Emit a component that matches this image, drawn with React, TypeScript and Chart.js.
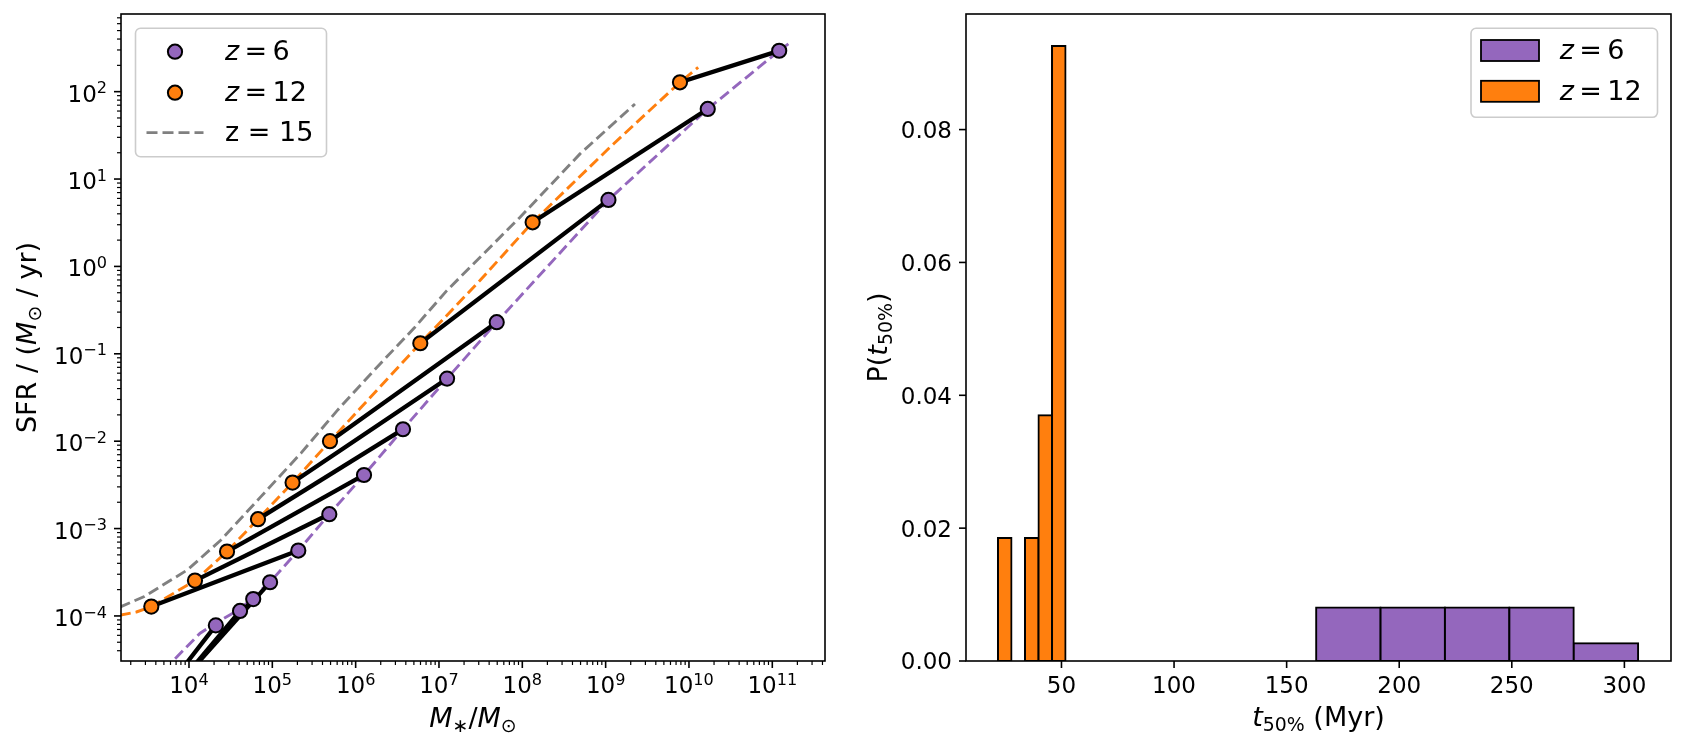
import React, { useEffect, useRef } from 'react';
import { Chart, registerables } from 'chart.js';

Chart.register(...registerables);

const FONT = '"DejaVu Sans", "Noto Sans", sans-serif';
const PURPLE = '#9467bd';
const ORANGE = '#ff7f0e';
const GRAY = '#808080';

// ---------------- Left panel: SFR vs stellar mass ----------------
// z = 6 galaxies (purple markers)
const z6Mass = [2.1e4, 4.1e4, 5.9e4, 9.4e4, 2.05e5, 4.83e5, 1.26e6, 3.7e6, 1.25e7, 4.93e7, 1.08e9, 1.68e10, 1.21e11];
const z6SFR = [7.8e-5, 1.14e-4, 1.56e-4, 2.43e-4, 5.6e-4, 1.46e-3, 4.1e-3, 1.37e-2, 5.2e-2, 0.23, 5.77, 63.4, 294];
// z = 12 progenitors (orange markers), paired index by index with z = 6
const z12Mass = [3.55e3, 5.0e3, 7.1e3, 1.0e4, 3.53e3, 1.18e4, 2.86e4, 6.73e4, 1.75e5, 4.92e5, 5.97e6, 1.33e8, 7.8e9];
const z12SFR = [8.8e-6, 1.05e-5, 1.55e-5, 2.24e-5, 1.28e-4, 2.54e-4, 5.46e-4, 1.28e-3, 3.36e-3, 1.0e-2, 0.132, 3.2, 128];
// dashed relations
const relZ6Mass = [5.0e3, 1.36e4, 2.1e4, 4.1e4, 9.4e4, 2.05e5, 4.83e5, 1.26e6, 3.7e6, 1.25e7, 4.93e7, 1.08e9, 1.68e10, 1.21e11, 1.56e11];
const relZ6SFR = [2.4e-5, 6.35e-5, 8.3e-5, 1.2e-4, 2.45e-4, 5.6e-4, 1.46e-3, 4.1e-3, 1.37e-2, 5.2e-2, 0.23, 5.77, 63.4, 294, 352];
const relZ12Mass = [1.48e3, 2.34e3, 3.53e3, 1.18e4, 2.86e4, 6.73e4, 1.75e5, 4.92e5, 5.97e6, 3.1e7, 1.33e8, 1.24e9, 7.8e9, 1.29e10];
const relZ12SFR = [1.02e-4, 1.11e-4, 1.28e-4, 2.54e-4, 5.46e-4, 1.28e-3, 3.36e-3, 1.0e-2, 0.132, 0.689, 3.2, 25.2, 128, 190];
const relZ15Mass = [1.48e3, 2.91e3, 9.6e3, 2.42e4, 7.3e4, 2.21e5, 6.1e5, 1.67e6, 5.1e6, 1.24e7, 9.4e7, 4.92e8, 2.25e9];
const relZ15SFR = [1.26e-4, 1.67e-4, 3.37e-4, 7.4e-4, 2.32e-3, 7.3e-3, 2.28e-2, 6.5e-2, 0.2, 0.528, 3.66, 19.4, 72.3];
const massDecades = [3, 4, 5, 6, 7, 8, 9, 10, 11];
const sfrDecades = [-5, -4, -3, -2, -1, 0, 1, 2];
const massRange = [1.528e3, 4.29e11];
const sfrRange = [3.05e-5, 774];

// ---------------- Right panel: t50 histogram ----------------
const z6BinEdges = [163.1, 191.7, 220.3, 248.9, 277.5, 306.1];
const z6Density = [0.00805, 0.00805, 0.00805, 0.00805, 0.00268];
const z12BinEdges = [21.8, 27.8, 33.8, 39.8, 45.8, 51.8];
const z12Density = [0.0185, 0, 0.0185, 0.037, 0.0926];
const tTicks = [50, 100, 150, 200, 250, 300];
const pTicks = [0, 0.02, 0.04, 0.06, 0.08];
const tRange = [7.6, 320.7];
const pRange = [0, 0.0974];

// ---------------- rich text helpers ----------------
type Seg = { t: string; it?: boolean; s?: number; dy?: number; pl?: number; pr?: number };

function fontOf(seg: Seg, base: number) {
  return `${seg.it ? 'italic ' : ''}${(base * (seg.s ?? 1)).toFixed(2)}px ${FONT}`;
}
function richWidth(ctx: any, segs: Seg[], base: number) {
  let w = 0;
  for (const sg of segs) {
    ctx.font = fontOf(sg, base);
    w += (sg.pl ?? 0) * base + ctx.measureText(sg.t).width + (sg.pr ?? 0) * base;
  }
  return w;
}
function drawRich(ctx: any, segs: Seg[], x: number, y: number, base: number, align: string) {
  const w = richWidth(ctx, segs, base);
  let cx = align === 'center' ? x - w / 2 : align === 'right' ? x - w : x;
  ctx.textAlign = 'left';
  ctx.textBaseline = 'alphabetic';
  ctx.fillStyle = '#000';
  for (const sg of segs) {
    ctx.font = fontOf(sg, base);
    cx += (sg.pl ?? 0) * base;
    ctx.fillText(sg.t, cx, y + (sg.dy ?? 0) * base);
    cx += ctx.measureText(sg.t).width + (sg.pr ?? 0) * base;
  }
}
function drawRichRot(ctx: any, segs: Seg[], x: number, y: number, base: number) {
  ctx.save();
  ctx.translate(x, y);
  ctx.rotate(-Math.PI / 2);
  drawRich(ctx, segs, 0, 0, base, 'center');
  ctx.restore();
}
function pow10(e: number): Seg[] {
  return [{ t: '10' }, { t: (e < 0 ? '\u2212' : '') + Math.abs(e), s: 0.7, dy: -0.365 }];
}
function zEq(n: number): Seg[] {
  return [{ t: 'z', it: true }, { t: '=', pl: 0.2, pr: 0.2 }, { t: String(n) }];
}
function legendFrame(ctx: any, x: number, y: number, w: number, h: number) {
  ctx.beginPath();
  ctx.roundRect(x, y, w, h, 5);
  ctx.fillStyle = 'rgba(255,255,255,0.8)';
  ctx.fill();
  ctx.strokeStyle = '#cccccc';
  ctx.lineWidth = 1.6;
  ctx.stroke();
}
function frame(ctx: any, a: any) {
  ctx.strokeStyle = '#000';
  ctx.lineWidth = 1.6;
  ctx.setLineDash([]);
  ctx.strokeRect(a.left, a.top, a.right - a.left, a.bottom - a.top);
}
function tick(ctx: any, x0: number, y0: number, x1: number, y1: number, w: number) {
  ctx.lineWidth = w;
  ctx.beginPath();
  ctx.moveTo(x0, y0);
  ctx.lineTo(x1, y1);
  ctx.stroke();
}

const TICK_FS = 23;
const LABEL_FS = 27;
const LEG_FS = 27;
const MARKER_R = 7.1;

const leftDecor = {
  id: 'leftDecor',
  afterDraw(chart: any) {
    const { ctx, chartArea: a, scales } = chart;
    const xs = scales.x;
    const ys = scales.y;
    ctx.save();
    frame(ctx, a);
    ctx.strokeStyle = '#000';
    // x ticks
    for (const e of massDecades) {
      for (let k = 1; k <= 9; k++) {
        const v = k * Math.pow(10, e);
        if (v < xs.min || v > xs.max) continue;
        const px = xs.getPixelForValue(v);
        const major = k === 1;
        tick(ctx, px, a.bottom, px, a.bottom + (major ? 7 : 4), major ? 1.6 : 1.2);
        if (major) drawRich(ctx, pow10(e), px, a.bottom + 32, TICK_FS, 'center');
      }
    }
    // y ticks
    for (const e of sfrDecades) {
      for (let k = 1; k <= 9; k++) {
        const v = k * Math.pow(10, e);
        if (v < ys.min || v > ys.max) continue;
        const py = ys.getPixelForValue(v);
        const major = k === 1;
        tick(ctx, a.left, py, a.left - (major ? 7 : 4), py, major ? 1.6 : 1.2);
        if (major) drawRich(ctx, pow10(e), a.left - 14, py + 10, TICK_FS, 'right');
      }
    }
    // axis titles
    drawRich(
      ctx,
      [{ t: 'M', it: true }, { t: '\u2217', s: 0.7, dy: 0.18 }, { t: '/' }, { t: 'M', it: true }, { t: '\u2299', s: 0.7, dy: 0.18 }],
      (a.left + a.right) / 2, 727, LABEL_FS, 'center'
    );
    drawRichRot(
      ctx,
      [{ t: 'SFR / (' }, { t: 'M', it: true }, { t: '\u2299', s: 0.7, dy: 0.18 }, { t: ' / yr)' }],
      a.left - 85, (a.top + a.bottom) / 2, LABEL_FS
    );
    // legend
    const bx = a.left + 14.5;
    const by = a.top + 14.3;
    legendFrame(ctx, bx, by, 191, 128.4);
    const rows = [a.top + 37.7, a.top + 78.7, a.top + 118.7];
    const mx = a.left + 54;
    const tx = a.left + 104;
    const markerColors = [PURPLE, ORANGE];
    const markerZ = [6, 12];
    for (let i = 0; i < 2; i++) {
      ctx.beginPath();
      ctx.arc(mx, rows[i], MARKER_R, 0, Math.PI * 2);
      ctx.fillStyle = markerColors[i];
      ctx.fill();
      ctx.strokeStyle = '#000';
      ctx.lineWidth = 2;
      ctx.stroke();
      drawRich(ctx, zEq(markerZ[i]), tx, rows[i] + 8.5, LEG_FS, 'left');
    }
    ctx.strokeStyle = GRAY;
    ctx.lineWidth = 2.8;
    ctx.setLineDash([11, 5]);
    ctx.beginPath();
    ctx.moveTo(a.left + 25.5, rows[2]);
    ctx.lineTo(a.left + 82.5, rows[2]);
    ctx.stroke();
    ctx.setLineDash([]);
    drawRich(ctx, [{ t: 'z = 15' }], tx, rows[2] + 8.5, LEG_FS, 'left');
    ctx.restore();
  },
};

const rightDecor = {
  id: 'rightDecor',
  afterDraw(chart: any) {
    const { ctx, chartArea: a, scales } = chart;
    const xs = scales.x;
    const ys = scales.y;
    ctx.save();
    frame(ctx, a);
    ctx.strokeStyle = '#000';
    for (const v of tTicks) {
      const px = xs.getPixelForValue(v);
      tick(ctx, px, a.bottom, px, a.bottom + 7, 1.6);
      drawRich(ctx, [{ t: String(v) }], px, a.bottom + 32, TICK_FS, 'center');
    }
    for (const v of pTicks) {
      const py = ys.getPixelForValue(v);
      tick(ctx, a.left, py, a.left - 7, py, 1.6);
      drawRich(ctx, [{ t: v.toFixed(2) }], a.left - 14, py + 8.4, TICK_FS, 'right');
    }
    drawRich(
      ctx,
      [{ t: 't', it: true }, { t: '50%', s: 0.7, dy: 0.18 }, { t: ' (Myr)' }],
      (a.left + a.right) / 2, 726, LABEL_FS, 'center'
    );
    drawRichRot(
      ctx,
      [{ t: 'P(' }, { t: 't', it: true }, { t: '50%', s: 0.7, dy: 0.18 }, { t: ')' }],
      a.left - 79, (a.top + a.bottom) / 2, LABEL_FS
    );
    // legend
    const bw = 186.5;
    const bx = a.right - 13.5 - bw;
    const by = a.top + 14.3;
    legendFrame(ctx, bx, by, bw, 89);
    const rows = [a.top + 36.5, a.top + 77.3];
    const colors = [PURPLE, ORANGE];
    const zs = [6, 12];
    for (let i = 0; i < 2; i++) {
      ctx.fillStyle = colors[i];
      ctx.fillRect(bx + 10, rows[i] - 10.5, 58, 21);
      ctx.strokeStyle = '#000';
      ctx.lineWidth = 1.8;
      ctx.strokeRect(bx + 10, rows[i] - 10.5, 58, 21);
      drawRich(ctx, zEq(zs[i]), bx + 88.7, rows[i] + 8.5, LEG_FS, 'left');
    }
    ctx.restore();
  },
};

const hidden = {
  grid: { display: false },
  border: { display: false },
  ticks: { display: false },
};

function leftConfig(): any {
  const relation = (mass: number[], sfr: number[], color: string) => ({
    type: 'line',
    data: mass.map((m, i) => ({ x: m, y: sfr[i] })),
    borderColor: color,
    borderWidth: 2.9,
    borderDash: [11, 5],
    pointRadius: 0,
    fill: false,
    order: 2,
  });
  const pairs = z12Mass.map((m, i) => ({
    type: 'line',
    data: [{ x: m, y: z12SFR[i] }, { x: z6Mass[i], y: z6SFR[i] }],
    borderColor: '#000',
    borderWidth: 4.3,
    borderCapStyle: 'square',
    pointRadius: 0,
    fill: false,
    order: 1,
  }));
  const markers = (mass: number[], sfr: number[], color: string, label: string) => ({
    type: 'line',
    label,
    data: mass.map((m, i) => ({ x: m, y: sfr[i] })),
    showLine: false,
    pointRadius: MARKER_R,
    pointBackgroundColor: color,
    pointBorderColor: '#000',
    pointBorderWidth: 2,
    order: 0,
  });
  return {
    type: 'line',
    data: {
      datasets: [
        markers(z6Mass, z6SFR, PURPLE, 'z = 6'),
        markers(z12Mass, z12SFR, ORANGE, 'z = 12'),
        ...pairs,
        relation(relZ6Mass, relZ6SFR, PURPLE),
        relation(relZ12Mass, relZ12SFR, ORANGE),
        relation(relZ15Mass, relZ15SFR, GRAY),
      ],
    },
    options: {
      responsive: false,
      animation: false,
      devicePixelRatio: 1,
      events: [],
      layout: { padding: { left: 0, top: 14, right: 17, bottom: 0 } },
      plugins: { legend: { display: false }, tooltip: { enabled: false } },
      scales: {
        x: {
          type: 'logarithmic',
          min: massRange[0],
          max: massRange[1],
          ...hidden,
          afterFit: (s: any) => { s.height = 88; },
        },
        y: {
          type: 'logarithmic',
          min: sfrRange[0],
          max: sfrRange[1],
          ...hidden,
          afterFit: (s: any) => { s.width = 121; },
        },
      },
    },
    plugins: [leftDecor],
  };
}

function rightConfig(): any {
  const bars = (edges: number[], dens: number[], color: string, axis: string, label: string) => ({
    label,
    xAxisID: axis,
    data: dens.map((d, i) => ({ x: (edges[i] + edges[i + 1]) / 2, y: d })),
    backgroundColor: color,
    borderColor: '#000',
    borderWidth: 2,
    borderSkipped: false,
    inflateAmount: 1,
    barPercentage: 1,
    categoryPercentage: 1,
    grouped: false,
  });
  return {
    type: 'bar',
    data: {
      datasets: [
        bars(z12BinEdges, z12Density, ORANGE, 'x', 'z = 12'),
        bars(z6BinEdges, z6Density, PURPLE, 'x2', 'z = 6'),
      ],
    },
    options: {
      responsive: false,
      animation: false,
      devicePixelRatio: 1,
      events: [],
      layout: { padding: { left: 0, top: 14, right: 13, bottom: 0 } },
      plugins: { legend: { display: false }, tooltip: { enabled: false } },
      scales: {
        x: {
          type: 'linear',
          min: tRange[0],
          max: tRange[1],
          offset: false,
          ...hidden,
          afterBuildTicks: (s: any) => { s.ticks = tTicks.map((v) => ({ value: v })); },
          afterFit: (s: any) => { s.height = 88; },
        },
        x2: {
          type: 'linear',
          position: 'bottom',
          min: tRange[0],
          max: tRange[1],
          offset: false,
          display: false,
          afterBuildTicks: (s: any) => { s.ticks = []; },
        },
        y: {
          type: 'linear',
          min: pRange[0],
          max: pRange[1],
          ...hidden,
          afterFit: (s: any) => { s.width = 124; },
        },
      },
    },
    plugins: [rightDecor],
  };
}

export default function App() {
  const leftRef = useRef<HTMLCanvasElement>(null);
  const rightRef = useRef<HTMLCanvasElement>(null);
  useEffect(() => {
    const c1 = new Chart(leftRef.current as HTMLCanvasElement, leftConfig());
    const c2 = new Chart(rightRef.current as HTMLCanvasElement, rightConfig());
    return () => {
      c1.destroy();
      c2.destroy();
    };
  }, []);
  return (
    <div style={{ position: 'absolute', left: 0, top: 0, width: 1684, height: 749, background: '#fff', overflow: 'hidden' }}>
      <canvas ref={leftRef} width={842} height={749} style={{ position: 'absolute', left: 0, top: 0 }} />
      <canvas ref={rightRef} width={842} height={749} style={{ position: 'absolute', left: 842, top: 0 }} />
    </div>
  );
}
